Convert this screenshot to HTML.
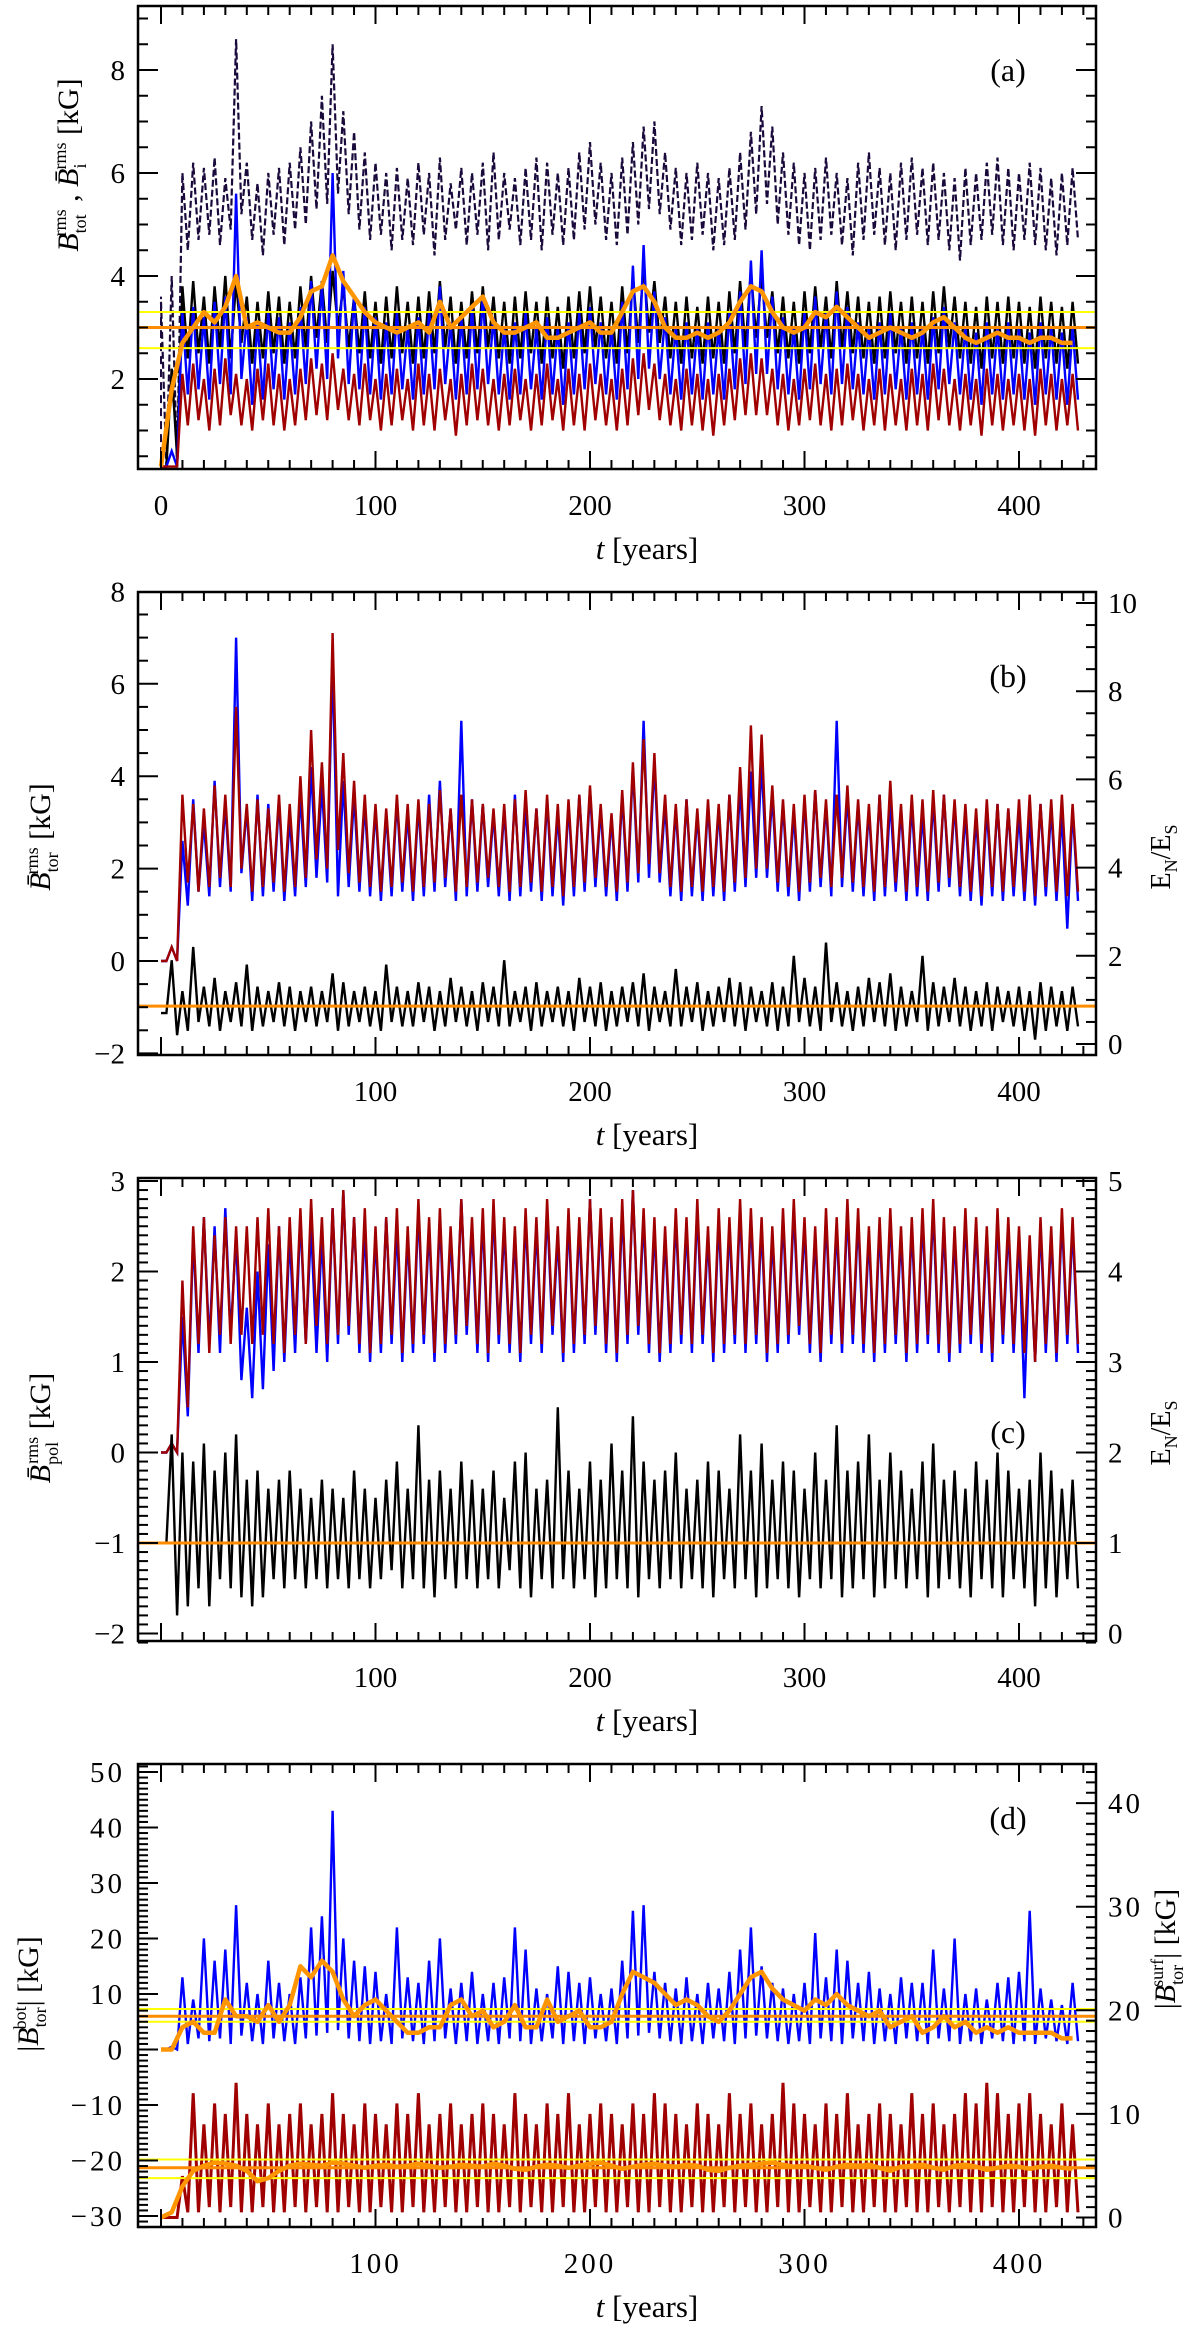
<!DOCTYPE html>
<html><head><meta charset="utf-8"><style>
html,body{margin:0;padding:0;background:#fff;}
svg{display:block;font-family:"Liberation Serif",serif;}
</style></head><body>
<svg id="chart" width="1200" height="2330" viewBox="0 0 1200 2330" xmlns="http://www.w3.org/2000/svg"></svg>
<script>
// ---------- data (t = 0,5,10,... years) ----------
const tStep = 5;
const xTickLabels = [0,100,200,300,400];
// panel a (kG)
const aPurpleHi=[3.5,4.0,6.0,6.2,6.1,6.3,5.9,8.6,6.2,5.8,6.0,6.1,6.2,6.5,7.0,7.5,8.5,7.2,6.8,6.4,6.2,6.0,6.1,5.9,6.2,6.0,6.3,5.8,6.1,6.0,6.2,6.4,6.0,5.9,6.1,6.3,6.2,6.0,6.1,6.4,6.6,6.2,6.0,6.3,6.6,6.9,7.0,6.4,6.1,6.0,6.2,6.0,5.9,6.1,6.4,6.8,7.3,6.9,6.4,6.2,6.0,6.1,6.3,6.0,5.9,6.2,6.4,6.1,6.0,6.2,6.3,6.1,6.2,6.0,5.9,6.1,6.0,6.2,6.3,6.1,6.0,6.2,6.1,5.9,6.0,6.1];
const aPurpleLo=[0.3,0.3,4.5,4.7,4.8,4.6,4.9,5.2,4.7,4.4,4.8,4.6,4.9,5.0,5.3,5.4,5.6,5.2,4.9,4.7,4.8,4.5,4.7,4.6,4.8,4.4,4.7,4.9,4.6,4.8,4.5,4.7,4.9,4.6,4.7,4.5,4.8,4.6,4.7,4.9,5.0,4.7,4.6,4.8,5.0,5.3,5.2,4.9,4.6,4.7,4.8,4.5,4.6,4.7,4.9,5.2,5.4,5.0,4.8,4.6,4.5,4.7,4.8,4.6,4.4,4.7,4.8,4.6,4.5,4.7,4.8,4.6,4.7,4.5,4.3,4.6,4.7,4.8,4.6,4.5,4.7,4.6,4.5,4.4,4.6,4.7];
const aBlackHi=[0.3,2.2,3.8,3.9,3.6,3.8,4.0,3.9,3.6,3.5,3.7,3.6,3.5,3.8,4.0,3.9,4.1,3.8,3.6,3.7,3.5,3.6,3.8,3.5,3.6,3.7,3.9,3.6,3.5,3.7,3.8,3.6,3.5,3.6,3.7,3.5,3.6,3.4,3.6,3.7,3.8,3.6,3.5,3.8,4.0,4.2,3.9,3.6,3.5,3.6,3.4,3.6,3.5,3.7,3.9,4.1,4.0,3.7,3.6,3.5,3.7,3.8,3.6,3.9,3.7,3.6,3.5,3.6,3.7,3.5,3.6,3.5,3.7,3.8,3.6,3.5,3.4,3.6,3.5,3.6,3.5,3.4,3.6,3.5,3.4,3.5];
const aBlackLo=[0.3,0.5,2.4,2.5,2.3,2.6,2.4,2.7,2.3,2.4,2.5,2.3,2.4,2.6,2.8,2.7,3.0,2.6,2.5,2.4,2.3,2.4,2.5,2.3,2.4,2.5,2.6,2.3,2.4,2.5,2.6,2.4,2.3,2.4,2.5,2.3,2.4,2.2,2.4,2.5,2.6,2.4,2.3,2.5,2.7,2.9,2.7,2.4,2.3,2.4,2.3,2.4,2.3,2.5,2.6,2.8,2.8,2.5,2.4,2.3,2.5,2.6,2.4,2.6,2.5,2.4,2.3,2.4,2.5,2.3,2.4,2.3,2.5,2.6,2.4,2.3,2.2,2.4,2.3,2.4,2.3,2.2,2.4,2.3,2.2,2.3];
const aBlueHi=[0.3,0.6,3.3,3.4,3.2,3.5,3.6,5.6,3.2,3.1,3.3,3.2,3.1,3.4,3.9,3.8,6.0,4.1,3.6,3.4,3.2,3.1,3.3,3.0,3.2,3.3,3.8,3.1,3.2,3.4,3.6,3.2,3.0,3.1,3.3,3.0,3.2,3.0,3.1,3.3,3.4,3.1,3.0,3.5,4.2,4.6,3.7,3.2,3.0,3.1,3.0,3.1,3.0,3.3,3.7,4.3,4.5,3.6,3.2,3.0,3.3,3.6,3.3,3.7,3.4,3.1,3.0,3.1,3.3,3.0,3.1,3.0,3.2,3.4,3.1,3.0,2.9,3.1,3.0,3.1,3.0,2.9,3.1,3.0,2.9,3.0];
const aBlueLo=[0.3,0.3,1.7,1.8,1.6,1.9,1.7,2.0,1.5,1.6,1.8,1.6,1.7,1.9,2.2,2.0,2.4,1.9,1.8,1.7,1.6,1.7,1.8,1.6,1.7,1.8,1.9,1.6,1.7,1.8,1.9,1.7,1.6,1.7,1.8,1.6,1.7,1.5,1.7,1.8,1.9,1.7,1.6,1.8,2.0,2.2,2.0,1.7,1.6,1.7,1.6,1.7,1.6,1.8,1.9,2.1,2.1,1.8,1.7,1.6,1.8,1.9,1.7,1.9,1.8,1.7,1.6,1.7,1.8,1.6,1.7,1.6,1.8,1.9,1.7,1.6,1.5,1.7,1.6,1.7,1.6,1.5,1.7,1.6,1.5,1.6];
const aRedHi=[0.3,0.3,2.1,2.3,2.0,2.2,2.4,2.1,2.0,2.2,2.3,2.1,2.0,2.2,2.4,2.3,2.5,2.2,2.1,2.3,2.0,2.1,2.2,2.0,2.3,2.1,2.2,2.0,2.1,2.3,2.2,2.0,2.1,2.2,2.0,2.1,2.3,2.0,2.2,2.1,2.3,2.1,2.0,2.2,2.4,2.5,2.3,2.1,2.0,2.2,2.1,2.0,2.1,2.2,2.4,2.5,2.4,2.2,2.1,2.0,2.2,2.3,2.1,2.2,2.3,2.1,2.0,2.2,2.1,2.0,2.2,2.1,2.3,2.2,2.0,2.1,2.0,2.2,2.1,2.0,2.1,2.0,2.2,2.1,2.0,2.1];
const aRedLo=[0.3,0.3,1.1,1.2,1.0,1.1,1.3,1.1,1.0,1.2,1.1,1.0,1.1,1.2,1.3,1.2,1.4,1.2,1.1,1.2,1.0,1.1,1.2,1.0,1.1,1.0,1.2,0.9,1.1,1.2,1.1,1.0,1.1,1.2,1.0,1.1,1.2,1.0,1.1,1.0,1.2,1.1,1.0,1.1,1.3,1.4,1.2,1.1,1.0,1.1,1.0,0.9,1.1,1.2,1.3,1.3,1.3,1.1,1.0,1.1,1.2,1.1,1.0,1.1,1.2,1.0,1.1,1.0,1.1,1.0,1.1,1.0,1.2,1.1,1.0,1.1,0.9,1.1,1.0,1.1,1.0,0.9,1.1,1.0,1.1,1.0];
const aOrange=[0.3,1.8,2.7,3.0,3.3,3.1,3.4,4.0,3.0,3.1,3.0,2.9,2.9,3.2,3.7,3.8,4.4,3.9,3.6,3.3,3.1,3.0,2.9,3.0,3.1,2.9,3.5,3.0,3.2,3.4,3.6,3.1,2.9,2.9,3.0,3.1,2.8,2.8,2.9,3.0,3.1,2.9,2.9,3.3,3.7,3.8,3.5,3.0,2.8,2.8,2.9,2.8,2.9,3.1,3.5,3.8,3.7,3.3,3.0,2.9,3.0,3.3,3.2,3.4,3.2,3.0,2.8,2.9,3.0,2.9,2.8,2.9,3.1,3.2,3.0,2.8,2.7,2.8,2.9,2.8,2.8,2.7,2.8,2.8,2.7,2.7];
const aRefLines=[3.0,3.3,2.6];
// panel b
const bBlueHi=[0,0.3,2.6,3.5,3.0,3.9,3.4,7.0,3.3,3.6,3.4,3.5,3.1,3.6,4.2,3.8,6.5,3.9,3.6,3.4,3.3,3.2,3.5,3.2,3.4,3.6,3.9,3.3,5.2,3.5,3.4,3.2,3.3,3.6,3.4,3.3,3.5,3.2,3.4,3.6,3.7,3.3,3.1,3.6,4.2,5.2,4.3,3.4,3.3,3.5,3.2,3.4,3.3,3.6,3.8,4.1,4.3,3.6,3.4,3.2,3.5,3.7,3.4,5.2,3.6,3.4,3.3,3.6,3.5,3.3,3.4,3.2,3.5,3.6,3.4,3.2,3.1,3.3,3.4,3.3,3.2,3.1,3.4,3.3,3.2,3.3];
const bBlueLo=[0,0,1.2,1.5,1.4,1.6,1.5,1.9,1.3,1.4,1.5,1.3,1.4,1.6,1.8,1.7,1.4,1.6,1.5,1.4,1.3,1.4,1.5,1.3,1.4,1.5,1.6,1.3,1.4,1.5,1.6,1.4,1.3,1.4,1.5,1.3,1.4,1.2,1.4,1.5,1.6,1.4,1.3,1.5,1.7,1.8,1.7,1.4,1.3,1.4,1.3,1.4,1.3,1.5,1.6,1.8,1.8,1.5,1.4,1.3,1.5,1.6,1.4,1.6,1.5,1.4,1.3,1.4,1.5,1.3,1.4,1.3,1.5,1.6,1.4,1.3,1.2,1.4,1.3,1.4,1.3,1.2,1.4,1.3,0.7,1.3];
const bRedHi=[0,0.3,3.6,3.4,3.3,3.8,3.6,5.5,3.4,3.5,3.3,3.6,3.4,4.0,5.0,4.3,7.1,4.5,3.9,3.6,3.4,3.3,3.6,3.4,3.5,3.4,3.7,3.3,3.6,3.5,3.4,3.3,3.4,3.5,3.7,3.3,3.6,3.4,3.5,3.6,3.8,3.4,3.2,3.7,4.3,4.8,4.5,3.6,3.4,3.5,3.3,3.5,3.4,3.6,4.2,5.1,4.9,3.8,3.5,3.4,3.6,3.7,3.5,3.6,3.8,3.5,3.4,3.6,3.9,3.4,3.6,3.5,3.7,3.6,3.5,3.4,3.3,3.5,3.4,3.3,3.5,3.6,3.4,3.5,3.6,3.4];
const bRedLo=[0,0,1.7,1.5,1.6,1.8,1.6,2.0,1.5,1.6,1.7,1.5,1.6,1.8,2.2,2.0,2.4,1.9,1.7,1.6,1.5,1.6,1.7,1.5,1.6,1.7,1.8,1.5,1.6,1.7,1.8,1.6,1.5,1.6,1.7,1.5,1.6,1.4,1.6,1.7,1.8,1.6,1.5,1.7,1.9,2.1,1.9,1.6,1.5,1.6,1.5,1.6,1.5,1.7,1.8,2.0,2.0,1.7,1.6,1.5,1.7,1.8,1.6,1.8,1.7,1.6,1.5,1.6,1.7,1.5,1.6,1.5,1.7,1.8,1.6,1.5,1.4,1.6,1.5,1.6,1.5,1.4,1.6,1.5,1.4,1.5];
const bRatioHi=[0.7,1.9,1.2,2.2,1.3,1.5,1.2,1.4,1.8,1.3,1.2,1.4,1.3,1.2,1.3,1.2,1.6,1.4,1.2,1.3,1.2,1.8,1.3,1.2,1.4,1.3,1.2,1.5,1.3,1.2,1.4,1.3,1.9,1.2,1.3,1.4,1.2,1.3,1.2,1.5,1.3,1.4,1.2,1.3,1.4,1.6,1.3,1.2,1.7,1.3,1.4,1.2,1.3,1.5,1.4,1.3,1.2,1.4,1.3,2.0,1.5,1.3,2.3,1.4,1.2,1.3,1.5,1.4,1.6,1.3,1.2,2.0,1.4,1.3,1.5,1.3,1.2,1.4,1.3,1.2,1.3,1.2,1.4,1.3,1.2,1.3];
const bRatioLo=[0.7,0.2,0.3,0.5,0.4,0.3,0.5,0.4,0.3,0.4,0.5,0.4,0.3,0.5,0.4,0.5,0.3,0.4,0.5,0.4,0.3,0.5,0.4,0.4,0.5,0.3,0.4,0.5,0.4,0.3,0.5,0.4,0.4,0.5,0.3,0.4,0.5,0.4,0.3,0.5,0.4,0.3,0.4,0.5,0.4,0.3,0.5,0.4,0.4,0.5,0.3,0.4,0.5,0.4,0.3,0.5,0.4,0.3,0.4,0.5,0.4,0.3,0.5,0.4,0.3,0.4,0.5,0.4,0.3,0.4,0.5,0.3,0.4,0.5,0.4,0.3,0.4,0.3,0.5,0.4,0.3,0.1,0.3,0.4,0.3,0.4];
const bRatioRef=0.86;
// panel c
const cBlueHi=[0,0.1,1.5,2.4,2.6,2.5,2.7,2.4,1.6,2.0,2.3,2.5,2.4,2.6,2.5,2.4,2.7,2.9,2.6,2.5,2.4,2.6,2.5,2.4,2.7,2.5,2.6,2.4,2.8,2.5,2.6,2.7,2.5,2.4,2.6,2.5,2.7,2.4,2.6,2.5,2.8,2.6,2.5,2.7,2.9,2.6,2.5,2.4,2.6,2.5,2.7,2.4,2.6,2.5,2.7,2.6,2.5,2.4,2.6,2.7,2.5,2.4,2.6,2.5,2.7,2.6,2.4,2.5,2.6,2.4,2.5,2.6,2.7,2.5,2.4,2.6,2.5,2.4,2.6,2.5,2.4,2.3,2.5,2.4,2.6,2.5];
const cBlueLo=[0,0,0.4,1.1,1.2,1.1,1.3,0.8,0.6,0.7,0.9,1.0,1.1,1.2,1.1,1.0,1.2,1.3,1.1,1.0,1.1,1.2,1.0,1.1,1.2,1.0,1.1,1.2,1.3,1.1,1.0,1.2,1.1,1.0,1.2,1.1,1.3,1.0,1.1,1.2,1.3,1.1,1.0,1.2,1.3,1.1,1.0,1.1,1.2,1.1,1.2,1.0,1.1,1.2,1.1,1.2,1.0,1.1,1.2,1.3,1.1,1.0,1.2,1.1,1.2,1.1,1.0,1.1,1.2,1.0,1.1,1.2,1.1,1.0,1.1,1.2,1.1,1.0,1.2,1.1,0.6,1.0,1.1,1.0,1.2,1.1];
const cRedHi=[0,0.1,1.9,2.5,2.6,2.4,2.6,2.5,2.5,2.6,2.7,2.5,2.6,2.7,2.8,2.6,2.7,2.9,2.6,2.7,2.5,2.6,2.7,2.5,2.8,2.6,2.7,2.5,2.8,2.6,2.7,2.8,2.6,2.5,2.7,2.6,2.8,2.5,2.7,2.6,2.8,2.7,2.6,2.8,2.9,2.7,2.6,2.5,2.7,2.6,2.8,2.5,2.7,2.6,2.8,2.7,2.6,2.5,2.7,2.8,2.6,2.5,2.7,2.6,2.8,2.7,2.5,2.6,2.7,2.5,2.6,2.7,2.8,2.6,2.5,2.7,2.6,2.5,2.7,2.6,2.5,2.4,2.6,2.5,2.7,2.6];
const cRedLo=[0,0,0.5,1.2,1.1,1.3,1.2,1.3,1.2,1.3,1.2,1.1,1.3,1.2,1.4,1.2,1.3,1.4,1.2,1.1,1.2,1.3,1.1,1.2,1.3,1.1,1.2,1.3,1.4,1.2,1.1,1.3,1.2,1.1,1.3,1.2,1.4,1.1,1.2,1.3,1.4,1.2,1.1,1.3,1.4,1.2,1.1,1.2,1.3,1.2,1.3,1.1,1.2,1.3,1.2,1.3,1.1,1.2,1.3,1.4,1.2,1.1,1.3,1.2,1.3,1.2,1.1,1.2,1.3,1.1,1.2,1.3,1.2,1.1,1.2,1.3,1.2,1.1,1.3,1.2,1.1,1.0,1.2,1.1,1.3,1.2];
const cRatioHi=[1.0,2.2,2.0,1.9,2.1,1.8,2.0,2.2,1.7,1.8,1.6,1.7,1.8,1.6,1.5,1.7,1.6,1.5,1.8,1.6,1.5,1.7,1.9,1.6,2.3,1.7,1.8,1.6,1.9,1.7,1.6,1.8,1.5,1.9,2.0,1.6,1.7,2.5,1.8,1.6,1.9,1.7,2.1,1.8,2.4,1.9,1.7,1.8,2.0,1.6,1.7,1.9,1.8,1.6,2.2,1.8,2.1,1.7,1.9,1.8,1.6,2.0,1.7,2.3,1.8,1.9,2.2,1.7,2.0,1.8,1.6,1.9,2.1,1.7,1.8,1.6,1.9,1.7,2.0,1.8,1.6,1.7,2.0,1.8,1.6,1.7];
const cRatioLo=[1.0,0.2,0.3,0.5,0.3,0.6,0.5,0.4,0.3,0.4,0.6,0.5,0.6,0.5,0.6,0.5,0.6,0.5,0.6,0.5,0.6,0.7,0.5,0.6,0.5,0.4,0.6,0.5,0.6,0.5,0.6,0.5,0.7,0.5,0.4,0.6,0.5,0.6,0.5,0.6,0.4,0.5,0.6,0.5,0.4,0.6,0.5,0.6,0.5,0.6,0.5,0.4,0.6,0.5,0.6,0.4,0.5,0.6,0.5,0.4,0.6,0.5,0.6,0.4,0.5,0.6,0.4,0.5,0.6,0.5,0.6,0.4,0.5,0.6,0.5,0.4,0.6,0.5,0.4,0.6,0.5,0.3,0.5,0.4,0.6,0.5];
const cRatioRef=1.0;
// panel d
const dBlueHi=[0,0.5,13,9,20,16,18,26,12,10,16,12,10,13,22,24,43,20,16,15,14,10,22,13,12,16,20,11,12,14,10,12,13,22,18,11,10,15,14,12,13,10,11,16,25,26,14,12,11,13,10,12,11,14,18,22,15,12,11,10,12,21,13,18,16,12,14,11,10,13,12,12,18,11,20,10,11,9,12,13,14,25,11,9,8,12];
const dBlueLo=[0,0,1,2,1.5,2,1,2.5,1.5,1,2,1.5,1,2,2.5,3,3.5,2,1.5,1,1.5,1,2,1.5,1,1.5,2,1,1.5,1,1.5,1,2,1.5,1,1.5,2,1,1.5,1,2,1.5,1,2,2.5,3,2,1.5,1,1.5,1,2,1.5,1,2,2.5,2,1.5,1,1.5,1,2,1.5,1,2,1.5,1,1.5,1,2,1.5,1,2,1.5,1,1.5,1,2,1.5,1,1.5,1,2,1.5,1,1.5];
const dBlueSmooth=[0,0,4,5,3,3,9,6,6,5,8,5,8,15,13,16,14,9,6,8,9,7,5,3,3,4,4,8,9,6,7,4,5,8,4,4,9,5,6,7,4,4,5,10,14,13,12,10,8,9,8,6,5,7,10,13,14,11,9,8,7,9,8,10,8,7,6,7,4,5,6,3,4,6,4,5,3,4,3,4,3,3,3,3,2,2];
const dRedHi=[0,0,4,12,9,11,10,13,10,9,11,9,10,11,9,10,12,10,9,11,10,9,11,10,12,9,10,11,9,10,11,10,9,12,10,9,11,10,12,9,10,11,10,9,11,10,12,11,10,9,11,10,9,12,10,11,9,10,13,11,10,9,11,10,12,9,10,11,10,9,12,10,11,9,10,12,11,13,12,10,11,12,10,9,11,9];
const dRedLo=[0,0,0.5,0.5,1,0.5,1,0.5,0.5,1,0.5,0.5,1,0.5,1,0.5,0.5,1,0.5,0.5,1,0.5,0.5,1,0.5,0.5,1,0.5,0.5,1,0.5,0.5,1,0.5,1,0.5,0.5,1,0.5,0.5,1,0.5,0.5,1,0.5,0.5,1,0.5,0.5,1,0.5,0.5,1,0.5,1,0.5,0.5,1,0.5,0.5,1,0.5,0.5,1,0.5,0.5,1,0.5,0.5,1,0.5,0.5,1,0.5,1,0.5,0.5,1,0.5,0.5,1,0.5,0.5,1,0.5,0.5];
const dRedSmooth=[0,0.5,3,4.5,5,5.3,5.2,5.0,4.5,3.5,3.8,4.5,5.0,5.2,5.1,5.0,5.3,5.2,5.0,4.8,5.0,5.1,4.9,5.0,5.2,5.0,4.8,4.9,5.1,5.0,4.9,5.2,5.0,4.7,4.6,4.9,5.1,5.0,4.8,5.0,5.2,5.3,5.0,4.7,4.9,5.1,5.2,5.0,4.9,5.1,5.0,4.6,4.5,4.8,5.0,5.1,5.2,5.3,5.1,4.9,5.0,4.8,4.6,4.9,5.1,5.0,5.1,4.8,4.5,4.9,5.0,5.1,4.8,4.6,5.0,5.1,4.9,4.6,4.8,5.0,4.9,4.7,4.9,5.0,4.8,4.7];
const dBlueRef=[6.0,7.3,5.0];
const dRedRef=[4.8,5.6,3.8];

// ---------- geometry ----------
const NS='http://www.w3.org/2000/svg';
const svg=document.getElementById('chart');
const L=138,R=1096,H=463;
const tops=[6,592,1178,1764];
const X=t=>161+t*2.145;
function el(tag,attrs,parent){const e=document.createElementNS(NS,tag);for(const k in attrs)e.setAttribute(k,attrs[k]);(parent||svg).appendChild(e);return e;}
function mkScale(top,v0,p0,pxPer){return v=>top+p0-(v-v0)*pxPer;}

const panels=[
 {id:'a',top:tops[0],yL:mkScale(tops[0],2,373,51.5),lmin:0.27,lmax:9.24,lmaj:2,lmin2:0.5,lLabels:[2,4,6,8],yR:null},
 {id:'b',top:tops[1],yL:mkScale(tops[1],0,369,46.2),lmin:-2.1,lmax:7.99,lmaj:2,lmin2:0.5,lLabels:[-2,0,2,4,6,8],
   yR:mkScale(tops[1],0,452,44.1),rmin:-0.25,rmax:10.25,rmaj:2,rmin2:0.5,rLabels:[0,2,4,6,8,10]},
 {id:'c',top:tops[2],yL:mkScale(tops[2],3,3,90.5),lmin:-2.1,lmax:3.03,lmaj:1,lmin2:0.1,lLabels:[-2,-1,0,1,2,3],
   yR:mkScale(tops[2],5,3,90.5),rmin:-0.1,rmax:5.03,rmaj:1,rmin2:0.1,rLabels:[0,1,2,3,4,5]},
 {id:'d',top:tops[3],yL:mkScale(tops[3],50,8,5.55),lmin:-32,lmax:51.4,lmaj:10,lmin2:1,lLabels:[-30,-20,-10,0,10,20,30,40,50],
   yR:mkScale(tops[3],0,453.5,10.36),rmin:-0.9,rmax:43.8,rmaj:10,rmin2:1,rLabels:[0,10,20,30,40]}
];

function clipFor(p){const cp=el('clipPath',{id:'clip-'+p.id});el('rect',{x:L,y:p.top,width:R-L,height:H},cp);return 'url(#clip-'+p.id+')';}
function noisy(g,hi,lo,y,color,w,name,dash){
  let pts=[];
  for(let i=0;i<hi.length;i++){pts.push(X(i*tStep).toFixed(1)+','+y(hi[i]).toFixed(1));pts.push(X(i*tStep+tStep/2).toFixed(1)+','+y(lo[i]).toFixed(1));}
  const e=el('polyline',{points:pts.join(' '),fill:'none',stroke:color,'stroke-width':w,'stroke-linejoin':'miter'},g);
  if(dash)e.setAttribute('stroke-dasharray',dash);
  
  
}
function smooth(g,vals,y,color,w,name){
  const pts=vals.map((v,i)=>X(i*tStep).toFixed(1)+','+y(v).toFixed(1)).join(' ');
  const e=el('polyline',{points:pts,fill:'none',stroke:color,'stroke-width':w,'stroke-linejoin':'round'},g);
  
  
}
function hline(g,v,y,color,w,name){
  const e=el('line',{x1:L,x2:R,y1:y(v),y2:y(v),stroke:color,'stroke-width':w},g);
  
  
}
function yTicks(g,p,y,vmin,vmax,maj,mn,labels,side){
  const n0=Math.ceil(vmin/mn-1e-6),n1=Math.floor(vmax/mn+1e-6);
  for(let n=n0;n<=n1;n++){
    const v=n*mn;const isMaj=Math.abs(v/maj-Math.round(v/maj))<1e-6;const len=isMaj?20:10;const yy=y(v);
    if(side==='L'||side==='LR'){el('line',{x1:L,x2:L+len,y1:yy,y2:yy,stroke:'#000','stroke-width':2},g);}
    if(side==='R'||side==='LR'){el('line',{x1:R,x2:R-len,y1:yy,y2:yy,stroke:'#000','stroke-width':2},g);}
  }
}
function yLabels(g,y,labels,side,spacing){
  labels.forEach(v=>{
    const t=el('text',{x:side==='L'?125:1108,y:y(v)+10,'font-size':29,'text-anchor':side==='L'?'end':'start','letter-spacing':spacing},g);
    t.textContent=(v<0?'\u2212':'')+Math.abs(v);
    
    
  });
}

const NW=2.4;
panels.forEach((p,pi)=>{
  const g=el('g',{});
  
  
  const series=el('g',{'clip-path':clipFor(p)},g);
  
  
  const yL=p.yL,yR=p.yR;
  if(p.id==='a'){
    el('line',{x1:X(0),x2:X(0),y1:yL(0.27),y2:yL(3.6),stroke:'#1a0a3c','stroke-width':2,'stroke-dasharray':'8,5'},series);
    noisy(series,aPurpleHi,aPurpleLo,yL,'#1a0a3c',2.2,'series-b-i-rms','7,3');
    noisy(series,aBlackHi,aBlackLo,yL,'#000',NW,'series-b-tot-rms');
    noisy(series,aBlueHi,aBlueLo,yL,'#0000ff',NW,'series-blue');
    noisy(series,aRedHi,aRedLo,yL,'#a00000',NW,'series-red');
    hline(series,aRefLines[1],yL,'#ffff00',2,'yellow-ref-upper');
    hline(series,aRefLines[2],yL,'#ffff00',2,'yellow-ref-lower');
    hline(series,aRefLines[0],yL,'#ff8c00',3,'orange-mean-line');
    smooth(series,aOrange,yL,'#ff9500',4.5,'orange-running-mean');
  } else if(p.id==='b'){
    noisy(series,bBlueHi,bBlueLo,yL,'#0000ff',NW,'series-north-tor');
    noisy(series,bRedHi,bRedLo,yL,'#a00000',NW,'series-south-tor');
    noisy(series,bRatioHi,bRatioLo,yR,'#000',NW,'series-energy-ratio');
    hline(series,bRatioRef,yR,'#ff8c00',3,'orange-ratio-line');
  } else if(p.id==='c'){
    noisy(series,cBlueHi,cBlueLo,yL,'#0000ff',NW,'series-north-pol');
    noisy(series,cRedHi,cRedLo,yL,'#a00000',NW,'series-south-pol');
    noisy(series,cRatioHi,cRatioLo,yR,'#000',NW,'series-energy-ratio');
    hline(series,cRatioRef,yR,'#ff8c00',3,'orange-ratio-line');
  } else {
    noisy(series,dBlueHi,dBlueLo,yL,'#0000ff',NW,'series-b-tor-bot');
    noisy(series,dRedHi,dRedLo,yR,'#a00000',NW+0.6,'series-b-tor-surf');
    hline(series,dBlueRef[1],yL,'#ffff00',2,'yellow-ref-bot-upper');
    hline(series,dBlueRef[2],yL,'#ffff00',2,'yellow-ref-bot-lower');
    hline(series,dBlueRef[0],yL,'#ff8c00',3,'orange-mean-bot');
    hline(series,dRedRef[1],yR,'#ffff00',2,'yellow-ref-surf-upper');
    hline(series,dRedRef[2],yR,'#ffff00',2,'yellow-ref-surf-lower');
    hline(series,dRedRef[0],yR,'#ff8c00',3,'orange-mean-surf');
    smooth(series,dBlueSmooth,yL,'#ff9500',4.5,'orange-running-mean-bot');
    smooth(series,dRedSmooth,yR,'#ff9500',4.5,'orange-running-mean-surf');
  }
  const fr=el('rect',{x:L,y:p.top,width:R-L,height:H,fill:'none',stroke:'#000','stroke-width':2.5},g);
  
  
  const tg=el('g',{},g);
  
  
  if(yR){yTicks(tg,p,yL,p.lmin,p.lmax,p.lmaj,p.lmin2,null,'L');yTicks(tg,p,yR,p.rmin,p.rmax,p.rmaj,p.rmin2,null,'R');}
  else yTicks(tg,p,yL,p.lmin,p.lmax,p.lmaj,p.lmin2,null,'LR');
  for(let t=0;t<=430;t+=10){
    const len=(t%100===0)?18:9;const xx=X(t);
    el('line',{x1:xx,x2:xx,y1:p.top+H,y2:p.top+H-len,stroke:'#000','stroke-width':2},tg);
    el('line',{x1:xx,x2:xx,y1:p.top,y2:p.top+len,stroke:'#000','stroke-width':2},tg);
  }
  const sp=p.id==='d'?3:0;
  yLabels(g,yL,p.lLabels,'L',sp);
  if(yR) yLabels(g,yR,p.rLabels,'R',sp);
  xTickLabels.forEach(v=>{
    if(v===0&&p.id!=='a')return;
    const t=el('text',{x:X(v),y:p.top+H+46,'font-size':29,'text-anchor':'middle','letter-spacing':sp},g);
    t.textContent=v;
    
    
  });
  const xt=el('text',{x:(L+R)/2+30,y:p.top+H+90,'font-size':31,'text-anchor':'middle'},g);
  xt.innerHTML='<tspan font-style="italic">t</tspan> [years]';
  
  
  const pl=el('text',{x:1008,y:p.top+({a:75,b:95,c:265,d:65})[p.id],'font-size':32,'text-anchor':'middle'},g);
  pl.textContent='('+p.id+')';
  
  
});

function vtitle(x,yc,html,name,size){
  const t=el('text',{x:0,y:0,'font-size':size||30,'text-anchor':'middle',transform:'translate('+x+','+yc+') rotate(-90)'});
  t.innerHTML=html;
  
  
}
vtitle(78,165,'<tspan font-style="italic">B</tspan><tspan font-size="18" dy="8">tot</tspan><tspan font-size="18" dy="-20" dx="-22">rms</tspan><tspan dy="12"> , </tspan><tspan font-style="italic">B̄</tspan><tspan font-size="18" dy="8">i</tspan><tspan font-size="18" dy="-20" dx="-6">rms</tspan><tspan dy="12"> [kG]</tspan>','y-axis-title-a');
vtitle(50,tops[1]+245,'<tspan font-style="italic">B̄</tspan><tspan font-size="18" dy="8">tor</tspan><tspan font-size="18" dy="-20" dx="-22">rms</tspan><tspan dy="12"> [kG]</tspan>','y-axis-title-b');
vtitle(50,tops[2]+250,'<tspan font-style="italic">B̄</tspan><tspan font-size="18" dy="8">pol</tspan><tspan font-size="18" dy="-20" dx="-22">rms</tspan><tspan dy="12"> [kG]</tspan>','y-axis-title-c');
vtitle(38,tops[3]+230,'|<tspan font-style="italic">B</tspan><tspan font-size="18" dy="8">tor</tspan><tspan font-size="18" dy="-20" dx="-22">bot</tspan><tspan dy="12">| [kG]</tspan>','y-axis-title-d');
vtitle(1170,tops[1]+265,'E<tspan font-size="18" dy="7">N</tspan><tspan dy="-7">/E</tspan><tspan font-size="18" dy="7">S</tspan>','y2-axis-title-b',28);
vtitle(1170,tops[2]+255,'E<tspan font-size="18" dy="7">N</tspan><tspan dy="-7">/E</tspan><tspan font-size="18" dy="7">S</tspan>','y2-axis-title-c',28);
vtitle(1175,tops[3]+185,'|<tspan font-style="italic">B</tspan><tspan font-size="18" dy="8">tor</tspan><tspan font-size="18" dy="-20" dx="-22">surf</tspan><tspan dy="12">| [kG]</tspan>','y2-axis-title-d');
</script>
</body></html>
